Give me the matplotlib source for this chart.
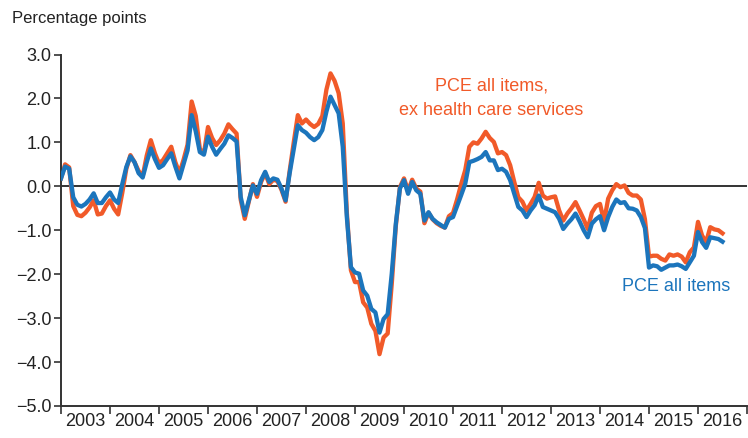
import matplotlib
matplotlib.use("Agg")
import matplotlib.pyplot as plt
import numpy as np
from matplotlib.ticker import FixedLocator, NullFormatter, FixedFormatter

plt.rcParams['font.family'] = ['Liberation Sans', 'DejaVu Sans']

start_year = 2003
years = list(range(2003, 2017))
y_ticks = [3.0, 2.0, 1.0, 0.0, -1.0, -2.0, -3.0, -4.0, -5.0]

pce_all = [
    0.18, 0.45, 0.40, -0.25, -0.42, -0.46, -0.40, -0.30, -0.16, -0.38, -0.38, -0.25,
    -0.14, -0.30, -0.38, 0.05, 0.44, 0.68, 0.55, 0.30, 0.20, 0.55, 0.86, 0.62,
    0.42, 0.48, 0.62, 0.75, 0.45, 0.18, 0.50, 0.82, 1.62, 1.25, 0.78, 0.72,
    1.13, 0.90, 0.72, 0.85, 0.97, 1.16, 1.10, 1.02, -0.24, -0.66, -0.32, 0.02,
    -0.17, 0.14, 0.33, 0.10, 0.18, 0.15, -0.05, -0.32, 0.30, 0.85, 1.39, 1.28,
    1.22, 1.12, 1.05, 1.12, 1.28, 1.70, 2.04, 1.85, 1.66, 0.90, -0.70, -1.84,
    -1.96, -1.99, -2.37, -2.49, -2.79, -2.87, -3.33, -3.02, -2.91, -1.99, -0.85, -0.05,
    0.14, -0.17, 0.10, -0.09, -0.17, -0.78, -0.59, -0.74, -0.82, -0.88, -0.94, -0.74,
    -0.70, -0.45, -0.20, 0.06, 0.55, 0.58, 0.62, 0.67, 0.78, 0.59, 0.59, 0.37,
    0.40, 0.33, 0.14, -0.17, -0.47, -0.55, -0.70, -0.55, -0.43, -0.21, -0.47, -0.51,
    -0.55, -0.59, -0.74, -0.97, -0.85, -0.75, -0.62, -0.80, -1.00, -1.16, -0.85, -0.75,
    -0.68, -1.00, -0.70, -0.47, -0.30, -0.38, -0.36, -0.50, -0.51, -0.55, -0.70, -0.95,
    -1.85, -1.80, -1.82, -1.90, -1.85, -1.80, -1.80, -1.78, -1.82, -1.88, -1.73, -1.58,
    -1.04, -1.27, -1.40, -1.16, -1.18, -1.20, -1.26,
]

pce_ex_health = [
    0.18, 0.50, 0.43, -0.45, -0.65, -0.68, -0.60, -0.48, -0.32, -0.64, -0.62, -0.45,
    -0.32, -0.51, -0.64, -0.15, 0.40, 0.71, 0.55, 0.35, 0.23, 0.70, 1.05, 0.75,
    0.52, 0.60, 0.75, 0.90, 0.55, 0.30, 0.60, 0.95, 1.93, 1.60, 0.85, 0.75,
    1.35, 1.10, 0.94, 1.05, 1.20, 1.41, 1.30, 1.20, -0.30, -0.74, -0.35, 0.05,
    -0.24, 0.10, 0.30, 0.05, 0.15, 0.12, -0.08, -0.35, 0.35, 1.00, 1.62, 1.43,
    1.52, 1.42, 1.35, 1.42, 1.60, 2.20, 2.57, 2.40, 2.12, 1.43, -0.60, -1.91,
    -2.18, -2.18, -2.64, -2.76, -3.13, -3.29, -3.82, -3.44, -3.35, -2.22, -0.90, -0.02,
    0.18, -0.10, 0.15, -0.05, -0.12, -0.84, -0.60, -0.75, -0.84, -0.90, -0.94, -0.68,
    -0.61, -0.30, 0.05, 0.37, 0.90, 1.00, 0.97, 1.09, 1.24, 1.10, 1.01, 0.75,
    0.78, 0.71, 0.48, 0.10, -0.25, -0.35, -0.55, -0.40, -0.24, 0.08, -0.21, -0.28,
    -0.25, -0.23, -0.55, -0.78, -0.62, -0.50, -0.36, -0.55, -0.75, -0.97, -0.60, -0.45,
    -0.40, -0.80, -0.28, -0.09, 0.05, -0.02, 0.02, -0.15, -0.21, -0.21, -0.30, -0.75,
    -1.60, -1.58, -1.58, -1.65, -1.69, -1.55, -1.58, -1.55, -1.60, -1.73, -1.50, -1.39,
    -0.81, -1.12, -1.27, -0.93, -0.98, -1.00, -1.07,
]

orange = '#F15A29'
blue = '#1C75BC'
dark = '#333333'

x = start_year + np.arange(len(pce_all)) / 12.0

fig = plt.figure(figsize=(7.48, 4.38), dpi=100)
ax = fig.add_axes([61/748, 1 - 406/438, (747-61)/748, (406-54.5)/438])

ax.axhline(0, color=dark, lw=1.4, zorder=1)
ax.plot(x, pce_ex_health, color=orange, lw=3.1, solid_joinstyle='round', zorder=2)
ax.plot(x, pce_all, color=blue, lw=3.1, solid_joinstyle='round', zorder=3)

ax.set_xlim(2003, 2017)
ax.set_ylim(-5, 3)

for s in ['top', 'right']:
    ax.spines[s].set_visible(False)
for s in ['left', 'bottom']:
    ax.spines[s].set_color(dark)
    ax.spines[s].set_linewidth(1.4)

ax.set_yticks(y_ticks)
ax.set_yticklabels(['\u2212%.1f' % abs(v) if v < 0 else '%.1f' % v for v in y_ticks])
ax.tick_params(axis='y', length=5, width=1.2, color=dark, labelsize=13, labelcolor='#222222', pad=2)

ax.xaxis.set_major_locator(FixedLocator(years + [2017]))
ax.xaxis.set_major_formatter(NullFormatter())
ax.xaxis.set_minor_locator(FixedLocator([yy + 0.5 for yy in years]))
ax.xaxis.set_minor_formatter(FixedFormatter([str(yy) for yy in years]))
ax.tick_params(axis='x', which='major', length=6, width=1.2, color=dark)
ax.tick_params(axis='x', which='minor', length=0, labelsize=13, labelcolor='#222222', pad=5)

fig.text(12/748, 1 - 18/438, 'Percentage points', fontsize=12, color='#222222', va='center', ha='left')

ax.text(2011.78, 2.28, 'PCE all items,', color=orange, fontsize=13, ha='center', va='center')
ax.text(2011.78, 1.73, 'ex health care services', color=orange, fontsize=13, ha='center', va='center')
ax.text(2014.45, -2.27, 'PCE all items', color=blue, fontsize=13, ha='left', va='center')

fig.savefig('out.png', dpi=100)
